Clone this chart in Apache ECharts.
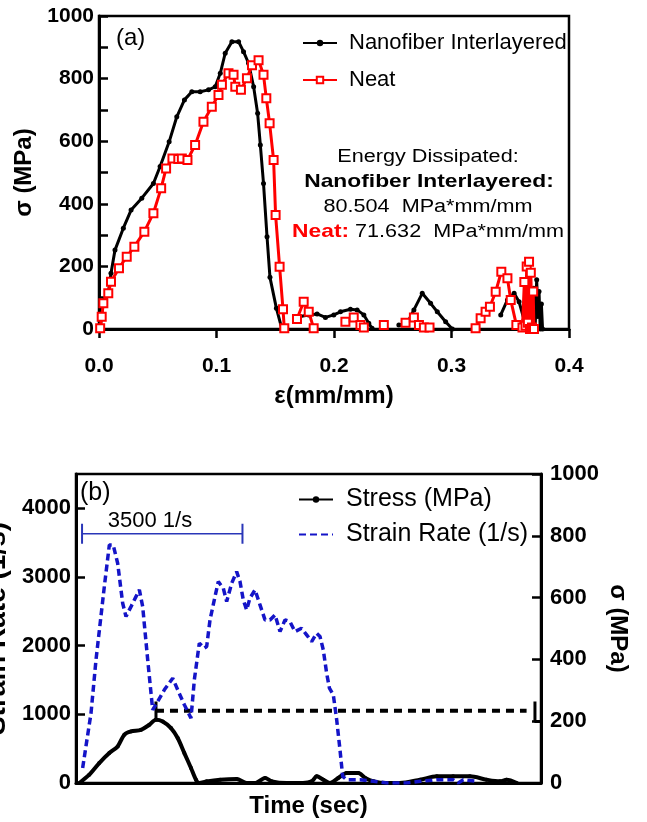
<!DOCTYPE html>
<html>
<head>
<meta charset="utf-8">
<script src="https://cdn.jsdelivr.net/npm/echarts@6/dist/echarts.min.js"></script>
<style>
html,body{margin:0;padding:0;background:#fff;}
#chart{width:647px;height:822px;}
</style>
</head>
<body>
<div id="chart"></div>
<script>
// ---------- Panel (a): stress vs strain ----------
const strainTicks = [0, 0.1, 0.2, 0.3, 0.4];
const stressTicksA = [0, 200, 400, 600, 800, 1000];

const nanoStrain = [0.001, 0.0037, 0.0079, 0.0102, 0.0136, 0.0207, 0.0273, 0.0364, 0.0463, 0.052, 0.0597, 0.0662, 0.0727, 0.079, 0.0861, 0.0932, 0.0989, 0.1032, 0.1074, 0.1131, 0.1188, 0.123, 0.1273, 0.1316, 0.135, 0.1373, 0.140, 0.143, 0.1455, 0.151, 0.1557, null, 0.171, 0.1785, 0.1856, 0.1927, 0.1998, 0.2055, 0.214, 0.2197, 0.2254, 0.2296, 0.2324, null, 0.2552, 0.2622, 0.268, 0.2751, 0.2822, 0.2879, 0.295, 0.3007, null, 0.3419, 0.3476, 0.3533, 0.3575, 0.3618, 0.3650, 0.3665, 0.3680, 0.3700, 0.3712, 0.3725, 0.3735, 0.3745, 0.3755, 0.3765, 0.3775];
const nanoStress = [2, 90, 114, 178, 252, 322, 380, 418, 465, 519, 598, 678, 732, 758, 758, 764, 774, 817, 881, 918, 918, 886, 849, 774, 689, 588, 465, 295, 165, 66, 0, null, 40, 45, 48, 37, 45, 55, 63, 61, 45, 18, 2, null, 13, 18, 61, 114, 82, 55, 23, 0, null, 45, 93, 114, 87, 29, 20, 90, 10, 130, 5, 157, 40, 120, 0, 80, 0];

const neatStrain = [0.001, 0.0023, 0.0037, 0.0079, 0.0102, 0.017, 0.0236, 0.0301, 0.0386, 0.0463, 0.0529, 0.0571, 0.0625, 0.0675, 0.0705, 0.0753, 0.0818, 0.0889, 0.096, 0.1017, 0.1046, 0.1102, 0.1145, 0.116, 0.1208, 0.1259, 0.1302, 0.1358, 0.14, 0.1424, 0.1452, 0.1486, 0.1503, 0.1537, 0.1566, 0.1577, null, 0.1685, 0.1742, 0.1785, 0.1827, null, 0.2097, 0.2168, 0.2225, 0.2254, null, 0.2424, null, 0.2609, 0.268, 0.2723, 0.2765, 0.2813, null, 0.3205, 0.3248, 0.329, 0.3327, 0.3376, 0.3424, 0.3476, 0.3504, 0.3552, null, 0.3604, 0.3620, 0.3630, 0.3640, 0.3650, 0.3660, 0.3668, 0.3675, 0.3685, 0.3695, 0.3702];
const neatStress = [2, 39, 82, 114, 151, 194, 231, 263, 311, 370, 450, 513, 545, 543, 545, 540, 588, 662, 710, 748, 780, 817, 812, 774, 764, 801, 843, 859, 812, 737, 657, 540, 364, 199, 63, 2, null, 32, 87, 55, 2, null, 23, 37, 13, 5, null, 13, null, 20, 37, 13, 5, 5, null, 2, 34, 55, 71, 119, 183, 162, 93, 13, null, 5, 150, 10, 200, 20, 215, 0, 180, 5, 120, 0];

// ---------- Panel (b): strain rate & stress vs time (time axis unlabeled, 0-100) ----------
const rateTicks = [0, 1000, 2000, 3000, 4000];
const sigmaTicksB = [0, 200, 400, 600, 800, 1000];

const rateTime = [1.43, 3.23, 4.3, 6.09, 7.17, 8.0, 8.96, 10.04, 10.75, 11.83, 12.9, 13.63, 14.34, 15.42, 16.49, 17.56, 19.0, 20.8, 21.87, 23.3, 24.73, 25.45, 26.52, 27.6, 28.1, 28.82, 29.89, 30.6, 31.68, 32.4, 33.48, 34.55, 35.27, 35.98, 36.7, 37.4, 38.5, 39.57, 40.65, 41.72, 42.8, 43.87, 44.95, 46.0, 47.1, 48.5, 49.6, 50.68, 51.76, 52.47, 53.18, 53.9, 54.5, 55.34, 56.06, 56.77, 57.35, 58.2, 61.1, 64, 66.8, 71.1, 74, 77.6, 81.1, 82.2, 83.3, 86.2];
const rateValues = [218, 1018, 1793, 2860, 3466, 3466, 3200, 2618, 2424, 2569, 2714, 2812, 2569, 1793, 1066, 1187, 1357, 1527, 1357, 1139, 945, 1503, 2036, 1964, 1987, 2375, 2714, 2932, 2836, 2642, 2909, 3078, 2932, 2666, 2521, 2691, 2812, 2594, 2375, 2375, 2448, 2205, 2375, 2351, 2205, 2254, 2157, 2060, 2181, 2133, 1939, 1600, 1382, 1284, 921, 484, 96, 48, 48, 24, 0, 0, 24, 48, 48, 0, 48, 24];

const stressTime = [0.72, 2.86, 5.0, 7.17, 8.96, 10.39, 11.83, 13.98, 15.77, 17.2, 18.64, 20.43, 21.87, 23.3, 24.73, 25.8, 26.5, 28.1, 31, 34.55, 36.7, 38.6, 40.65, 42.1, 45.3, 48.8, 50.7, 51.76, 53.2, 54.6, 56.4, 58.2, 60.7, 62.2, 64, 66.8, 69.6, 74, 77.6, 81.1, 84.7, 88.3, 91.2, 92.6, 94.8];
const stressValues = [0, 121, 291, 436, 533, 703, 751, 775, 848, 921, 896, 800, 655, 436, 218, 48, 0, 24, 48, 58, 0, 0, 73, 24, 0, 0, 24, 97, 48, 0, 73, 145, 145, 73, 24, 0, 0, 48, 97, 97, 97, 48, 24, 48, 0];

// dashed reference level, peak stub, end bracket, 3500 1/s bracket (time, value)
const dashTime = [17.2, 96.9];
const dashLevel = [1052, 1052];
const stubTime = [17.2, 17.2];
const stubLevel = [1187, 921];
const endTime = [98.7, 98.7, 100];
const endLevel = [1187, 896, 896];
const bracketTime = [1.3, 35.8];
const bracketLevel = [3630, 3630];

function pairs(xs, ys) {
  return xs.map((x, i) => (x === null || ys[i] === null) ? ['-', '-'] : [x, ys[i]]);
}

const FONT = 'Liberation Sans';
const black = '#000000';
const red = '#ff0000';
const blue = '#1414c8';

const chart = echarts.init(document.getElementById('chart'), null, {renderer: 'canvas'});

const axisLineStyle = {show: true, lineStyle: {color: black, width: 3}};
const labelBold = (size, margin) => ({color: black, fontFamily: FONT, fontWeight: 'bold', fontSize: size, margin: margin});
const nameBold = (size) => ({color: black, fontFamily: FONT, fontWeight: 'bold', fontSize: size});

const option = {
  animation: false,
  backgroundColor: '#ffffff',
  textStyle: {fontFamily: FONT},
  grid: [
    {left: 99, top: 16, width: 470, height: 313, show: true, borderColor: black, borderWidth: 2.5, backgroundColor: 'transparent', containLabel: false, outerBoundsMode: 'none'},
    {left: 76, top: 474, width: 465, height: 309, show: true, borderColor: black, borderWidth: 2.5, backgroundColor: 'transparent', containLabel: false, outerBoundsMode: 'none'}
  ],
  xAxis: [
    {
      type: 'value', gridIndex: 0, min: strainTicks[0], max: strainTicks[strainTicks.length - 1], interval: 0.1,
      axisLine: axisLineStyle,
      axisTick: {show: true, inside: false, length: 9, lineStyle: {color: black, width: 2.5}},
      axisLabel: Object.assign(labelBold(21, 27), {formatter: v => v.toFixed(1)}),
      splitLine: {show: false},
      name: 'ε(mm/mm)', nameLocation: 'middle', nameGap: 55, nameTextStyle: nameBold(24)
    },
    {
      type: 'value', gridIndex: 1, min: 0, max: 100,
      axisLine: axisLineStyle,
      axisTick: {show: false}, axisLabel: {show: false}, splitLine: {show: false},
      name: 'Time (sec)', nameLocation: 'middle', nameGap: 11, nameTextStyle: nameBold(24)
    }
  ],
  yAxis: [
    {
      type: 'value', gridIndex: 0, min: stressTicksA[0], max: stressTicksA[stressTicksA.length - 1], interval: 100,
      axisLine: axisLineStyle,
      axisTick: {show: true, inside: true, length: 9, lineStyle: {color: black, width: 2.5}},
      axisLabel: Object.assign(labelBold(21, 5), {formatter: v => stressTicksA.indexOf(v) >= 0 ? String(v) : ''}),
      splitLine: {show: false},
      name: 'σ (MPa)', nameLocation: 'middle', nameGap: 57, nameTextStyle: nameBold(24)
    },
    {
      type: 'value', gridIndex: 1, position: 'left', min: 0, max: 4500, interval: 1000,
      axisLine: axisLineStyle,
      axisTick: {show: true, inside: true, length: 9, lineStyle: {color: black, width: 2.5}},
      axisLabel: Object.assign(labelBold(22, 5), {formatter: v => rateTicks.indexOf(v) >= 0 ? String(v) : '', showMaxLabel: false}),
      splitLine: {show: false},
      name: 'Strain Rate (1/s)', nameLocation: 'middle', nameGap: 55, nameTextStyle: nameBold(28)
    },
    {
      type: 'value', gridIndex: 1, position: 'right', min: sigmaTicksB[0], max: sigmaTicksB[sigmaTicksB.length - 1], interval: 200,
      axisLine: axisLineStyle,
      axisTick: {show: true, inside: true, length: 9, lineStyle: {color: black, width: 2.5}},
      axisLabel: Object.assign(labelBold(22, 9), {formatter: v => String(v)}),
      splitLine: {show: false},
      name: 'σ (MPa)', nameLocation: 'middle', nameGap: 65, nameRotate: -90, nameMoveOverlap: false, nameTextStyle: nameBold(24)
    }
  ],
  legend: [
    {
      orient: 'vertical', left: 297, top: 25, itemWidth: 34, itemHeight: 8, itemGap: 11,
      data: ['Nanofiber Interlayered', 'Neat'],
      textStyle: {color: black, fontFamily: FONT, fontSize: 22, lineHeight: 26, padding: [0, 0, 0, 7]}
    },
    {
      orient: 'vertical', left: 293, top: 481, itemWidth: 34, itemHeight: 8, itemGap: 8,
      data: ['Stress (MPa)', {name: 'Strain Rate (1/s)', itemStyle: {opacity: 0}}],
      textStyle: {color: black, fontFamily: FONT, fontSize: 25, lineHeight: 27, padding: [0, 0, 0, 8]}
    }
  ],
  series: [
    {
      name: 'Nanofiber Interlayered', type: 'line', xAxisIndex: 0, yAxisIndex: 0,
      data: pairs(nanoStrain, nanoStress), connectNulls: false,
      symbol: 'circle', symbolSize: 5, showSymbol: true,
      lineStyle: {color: black, width: 3}, itemStyle: {color: black}, z: 3
    },
    {
      name: 'Neat', type: 'line', xAxisIndex: 0, yAxisIndex: 0,
      data: pairs(neatStrain, neatStress), connectNulls: false,
      symbol: 'emptyRect', symbolSize: 8, showSymbol: true,
      lineStyle: {color: red, width: 3}, itemStyle: {color: red, borderWidth: 1.5}, z: 4
    },
    {
      name: 'Stress (MPa)', type: 'line', xAxisIndex: 1, yAxisIndex: 1,
      data: pairs(stressTime, stressValues), smooth: 0.3,
      symbol: 'circle', symbolSize: 4, showSymbol: true,
      lineStyle: {color: black, width: 4}, itemStyle: {color: black}, z: 3
    },
    {
      name: 'Strain Rate (1/s)', type: 'line', xAxisIndex: 1, yAxisIndex: 1,
      data: pairs(rateTime, rateValues),
      symbol: 'circle', symbolSize: 0, showSymbol: false,
      lineStyle: {color: blue, width: 3.5, type: [7, 4]}, itemStyle: {color: blue}, z: 4
    },
    {
      name: 'level', type: 'line', xAxisIndex: 1, yAxisIndex: 1,
      data: pairs(dashTime, dashLevel), showSymbol: false, symbol: 'none', silent: true,
      lineStyle: {color: black, width: 4, type: [8, 6]}, z: 3
    },
    {
      name: 'stub', type: 'line', xAxisIndex: 1, yAxisIndex: 1,
      data: pairs(stubTime, stubLevel), showSymbol: false, symbol: 'none', silent: true,
      lineStyle: {color: black, width: 3}, z: 3
    },
    {
      name: 'end', type: 'line', xAxisIndex: 1, yAxisIndex: 1,
      data: pairs(endTime, endLevel), showSymbol: false, symbol: 'none', silent: true,
      lineStyle: {color: black, width: 3}, z: 3
    },
    {
      name: 'bracket', type: 'line', xAxisIndex: 1, yAxisIndex: 1,
      data: pairs(bracketTime, bracketLevel), showSymbol: true, symbol: 'rect', symbolSize: [2, 20], silent: true,
      lineStyle: {color: '#2a36b8', width: 1.5}, itemStyle: {color: '#2a36b8'}, z: 4
    }
  ],
  graphic: [
    {type: 'text', x: 116, y: 38, style: {text: '(a)', font: '24px "Liberation Sans"', fill: black, align: 'left', verticalAlign: 'middle'}},
    {type: 'text', x: 80, y: 493, style: {text: '(b)', font: '25px "Liberation Sans"', fill: black, align: 'left', verticalAlign: 'middle'}},
    {type: 'text', x: 150, y: 521, style: {text: '3500 1/s', font: '22px "Liberation Sans"', fill: black, align: 'center', verticalAlign: 'middle'}},
    {type: 'text', x: 428, y: 157, scaleX: 1.2, style: {text: 'Energy Dissipated:', font: '18px "Liberation Sans"', fill: black, align: 'center', verticalAlign: 'middle'}},
    {type: 'text', x: 429, y: 182, scaleX: 1.2, style: {text: 'Nanofiber Interlayered:', font: 'bold 19px "Liberation Sans"', fill: black, align: 'center', verticalAlign: 'middle'}},
    {type: 'text', x: 428, y: 207, scaleX: 1.2, style: {text: '80.504  MPa*mm/mm', font: '18px "Liberation Sans"', fill: black, align: 'center', verticalAlign: 'middle'}},
    {type: 'text', x: 428, y: 232, scaleX: 1.2, style: {
      text: '{n|Neat:} 71.632  MPa*mm/mm', font: '18px "Liberation Sans"', fill: black, align: 'center', verticalAlign: 'middle',
      rich: {n: {fill: red, fontWeight: 'bold', fontSize: 19, fontFamily: 'Liberation Sans'}}
    }}
  ]
};

chart.setOption(option);
</script>
</body>
</html>
